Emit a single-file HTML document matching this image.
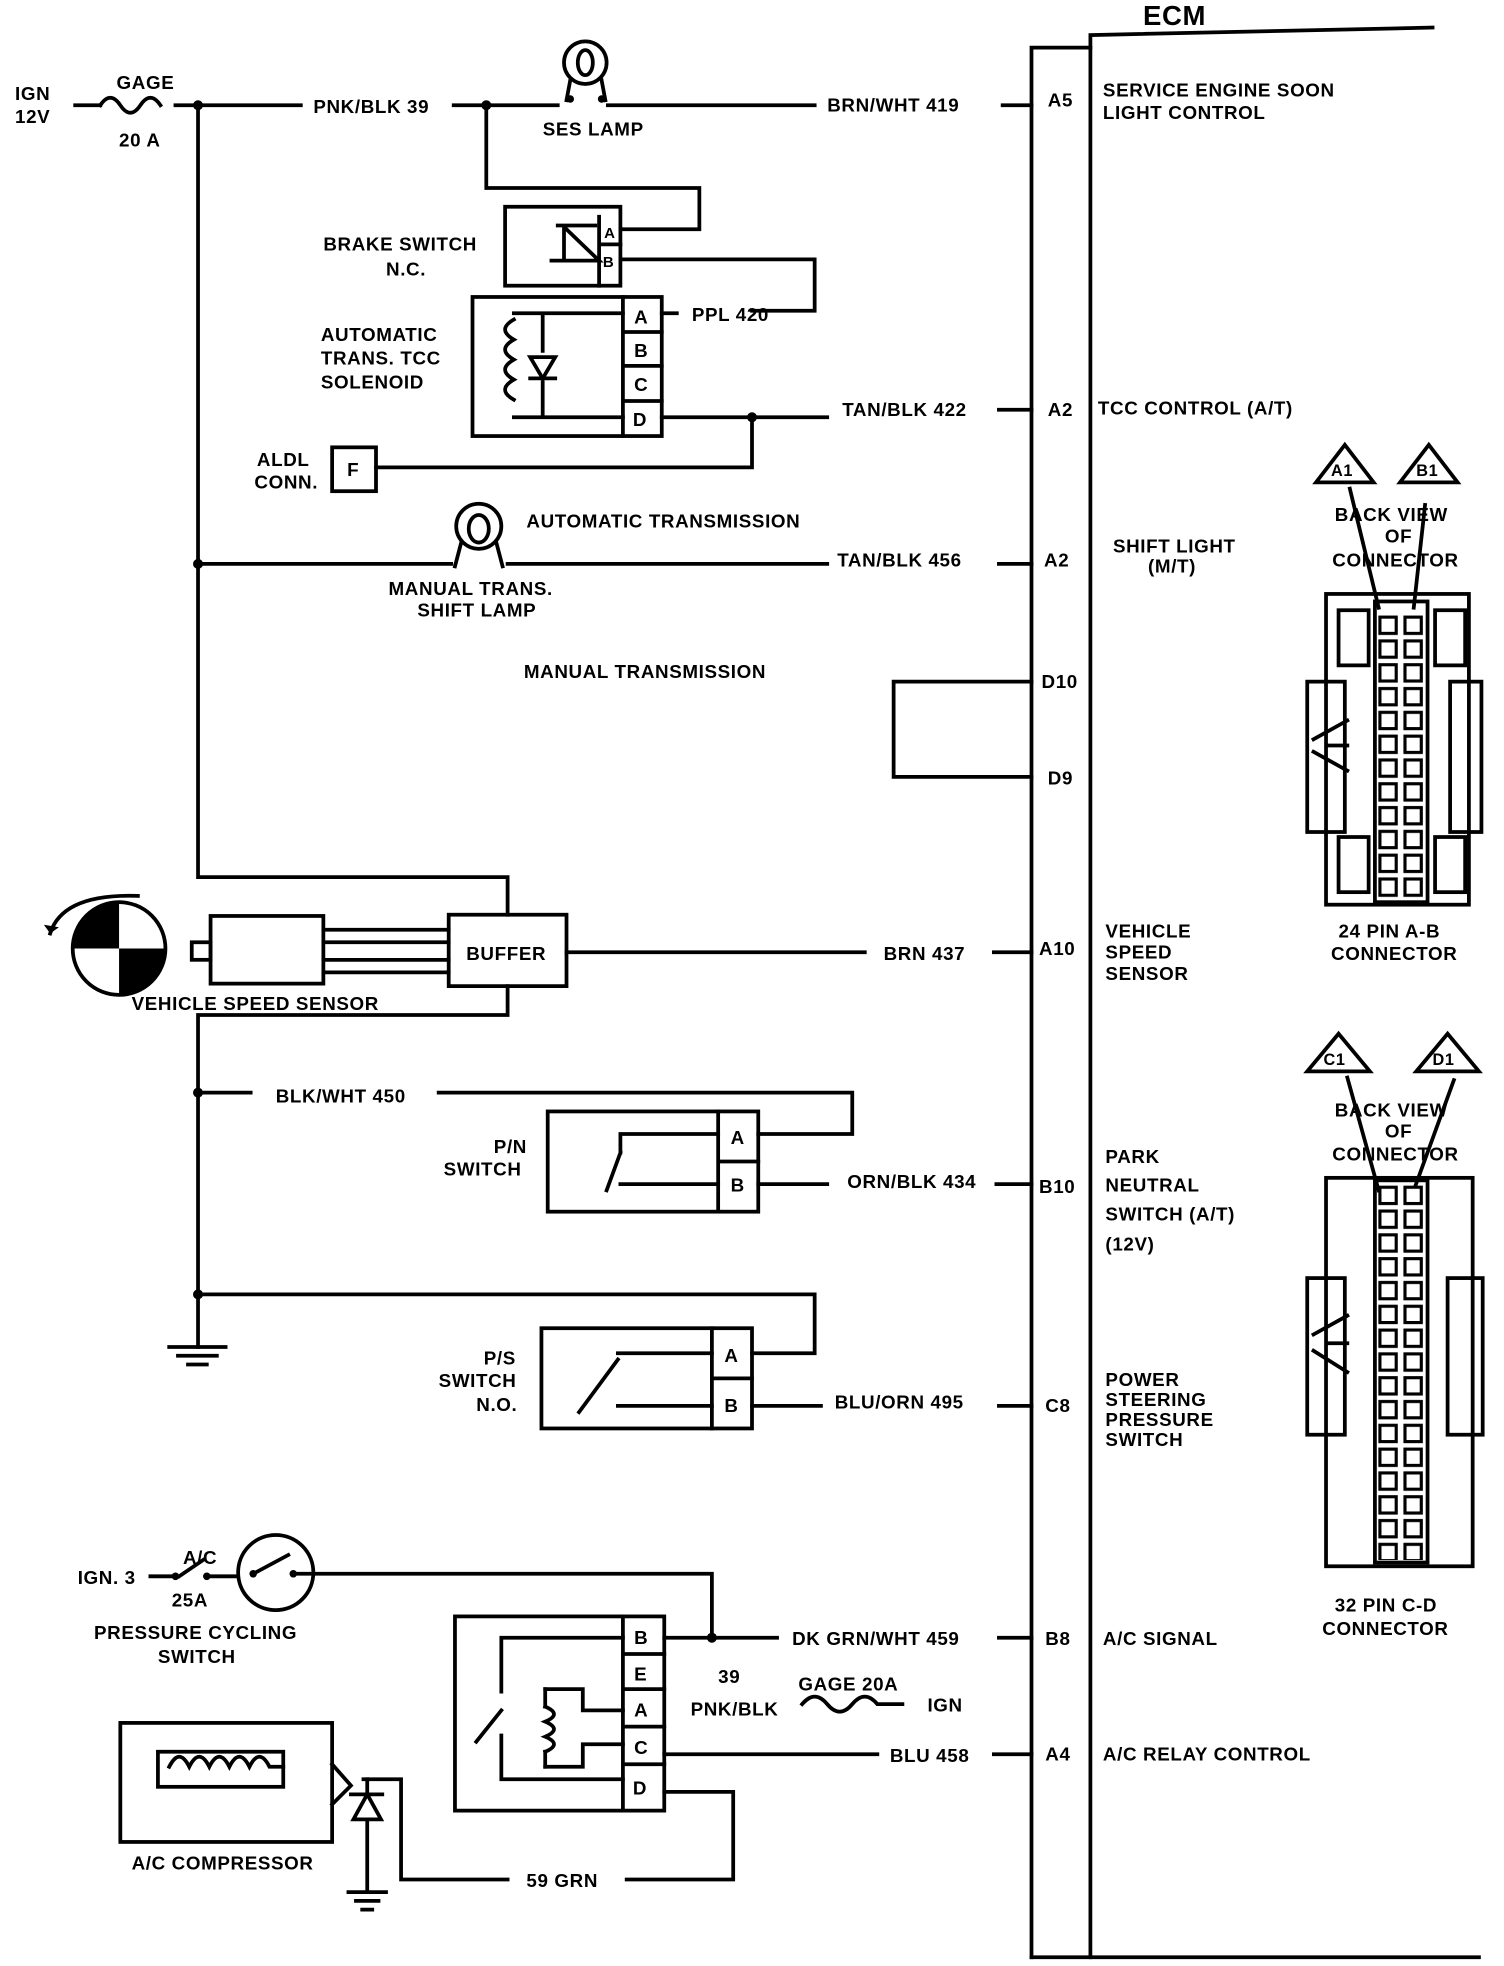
<!DOCTYPE html>
<html><head><meta charset="utf-8"><style>
html,body{margin:0;padding:0;background:#fff}
svg{display:block}
text{font-family:"Liberation Sans",sans-serif;font-weight:bold;font-size:15px;fill:#000;letter-spacing:0.5px}
</style></head><body>
<svg width="1504" height="1966" viewBox="0 0 1200 1569" preserveAspectRatio="none" xmlns="http://www.w3.org/2000/svg">
<defs>
<pattern id="pins" x="1098" y="490" width="20" height="19" patternUnits="userSpaceOnUse"><rect x="3" y="2.5" width="13" height="13" fill="#fff" stroke="#000" stroke-width="2.5"/></pattern>
<pattern id="pins2" x="1098" y="945" width="20" height="19" patternUnits="userSpaceOnUse"><rect x="3" y="2.5" width="13" height="13" fill="#fff" stroke="#000" stroke-width="2.5"/></pattern>
</defs>
<g fill="none" stroke="#000" stroke-width="3" stroke-linecap="square">
<path d="M823 1562 V38 H870"/>
<path d="M870 1562 V28 L1143 22"/>
<path d="M823 1562 H870 H1180"/>
<path d="M60 84 H80"/>
<path d="M80 84 q8 -12 16 0 q8 12 16 0 q8 -12 16 0"/>
<path d="M140 84 H240"/>
<path d="M158 84 V700 H405 V730"/>
<path d="M362 84 H445"/>
<circle cx="467" cy="50" r="17"/>
<ellipse cx="467" cy="50" rx="6" ry="10"/>
<path d="M455 64 L452 80 M480 64 L483 80"/>
<path d="M485 84 H650"/>
<path d="M800 84 H823"/>
<path d="M388 84 V150 H558 V183 H495"/>
<rect x="403" y="165" width="92" height="63"/>
<path d="M478 173 V228 M478 195 H495"/>
<path d="M450 180 V208 M445 180 H475 M440 208 H478 L452 183"/>
<path d="M495 207 H650 V248 H600"/>
<path d="M528 250 H540"/>
<rect x="377" y="237" width="151" height="111"/>
<path d="M497 237 V348 M497 265 H528 M497 292 H528 M497 320 H528"/>
<path d="M410 250 H497 M410 333 H497 M433 250 V280 M433 305 V333"/>
<path d="M410 255 q-14 8 0 16 q-14 8 0 16 q-14 8 0 16 q-14 8 0 16"/>
<path d="M423 285 H443 L433 302 Z M423 302 H443"/>
<path d="M528 333 H660"/>
<path d="M797 327 H823"/>
<path d="M600 333 V373 H300"/>
<rect x="265" y="357" width="35" height="35"/>
<path d="M158 450 H360 M405 450 H660"/>
<circle cx="382" cy="420" r="18"/>
<ellipse cx="382" cy="422" rx="8" ry="11"/>
<path d="M368 433 L363 452 M396 433 L401 452"/>
<path d="M797 450 H823"/>
<path d="M713 544 H823 M713 544 V620 H823"/>
<circle cx="95" cy="757" r="37"/>
<path d="M40 745 Q50 713 110 715"/>
<rect x="153" y="752" width="15" height="14"/>
<rect x="168" y="731" width="90" height="54"/>
<path d="M258 742 H358 M258 752 H358 M258 766 H358 M258 776 H358"/>
<rect x="358" y="730" width="94" height="57"/>
<path d="M452 760 H690 M793 760 H823"/>
<path d="M405 787 V810 H158 V1075"/>
<path d="M135 1075 H180 M142 1082 H173 M150 1089 H165"/>
<path d="M158 872 H200 M350 872 H680 V905 H605"/>
<rect x="437" y="887" width="168" height="80"/>
<path d="M573 887 V967 M573 927 H605"/>
<path d="M495 905 H573 M495 945 H573 M495 905 V920 M484 950 L495 920"/>
<path d="M605 945 H660 M795 945 H823"/>
<path d="M158 1033 H650 V1080 H600"/>
<rect x="432" y="1060" width="168" height="80"/>
<path d="M568 1060 V1140 M568 1100 H600"/>
<path d="M493 1080 H568 M493 1122 H568 M462 1127 L493 1085"/>
<path d="M600 1122 H655 M797 1122 H823"/>
<path d="M120 1258 H137 M143 1258 L162 1245 M168 1258 H190"/>
<circle cx="220" cy="1255" r="30"/>
<path d="M202 1256 L230 1241 M234 1256 H250"/>
<path d="M250 1256 H568 V1307"/>
<rect x="363" y="1290" width="167" height="155"/>
<path d="M497 1290 V1445 M497 1320 H530 M497 1348 H530 M497 1378 H530 M497 1408 H530"/>
<path d="M400 1307 H497 M400 1307 V1350 M380 1390 L400 1365 M400 1385 V1420 H497"/>
<path d="M435 1348 V1362 M435 1398 V1410"/>
<path d="M435 1362 q14 6 0 12 q14 6 0 12 q14 6 0 12"/>
<path d="M435 1348 H465 V1365 H497 M435 1410 H465 V1392 H497"/>
<path d="M530 1307 H620 M797 1307 H823"/>
<path d="M640 1360 q10 -12 20 0 q10 12 20 0 q10 -12 20 0 H720"/>
<path d="M530 1400 H700 M793 1400 H823"/>
<path d="M530 1430 H585 V1500 H500 M405 1500 H320 V1420 H290"/>
<rect x="96" y="1375" width="169" height="95"/>
<rect x="126" y="1398" width="100" height="28"/>
<path d="M135 1410 q8 -16 16 0 q8 -16 16 0 q8 -16 16 0 q8 -16 16 0 q8 -16 16 0 H226"/>
<path d="M265 1408 L280 1425 L265 1440"/>
<path d="M280 1432 H305 M282 1452 H304 L293 1432 Z M293 1420 V1432 M293 1452 V1510"/>
<path d="M278 1510 H308 M284 1517 H302 M289 1524 H297"/>
<path d="M1050 385 L1073 355 L1096 385 Z M1117 385 L1140 355 L1163 385 Z"/>
<path d="M1077 390 L1100 485 M1137 403 L1128 485"/>
<rect x="1058" y="474" width="114" height="248"/>
<rect x="1043" y="544" width="30" height="120"/>
<rect x="1157" y="544" width="25" height="120"/>
<rect x="1097" y="480" width="42" height="240"/>
<rect x="1068" y="487" width="24" height="44"/>
<rect x="1145" y="487" width="24" height="44"/>
<rect x="1068" y="668" width="24" height="44"/>
<rect x="1145" y="668" width="24" height="44"/>
<path d="M1048 590 L1075 575 M1048 600 L1075 615 M1060 595 H1075"/>
<path d="M1043 855 L1068 825 L1093 855 Z M1130 855 L1155 825 L1180 855 Z"/>
<path d="M1075 860 L1100 950 M1160 862 L1128 950"/>
<rect x="1058" y="940" width="117" height="310"/>
<rect x="1043" y="1020" width="30" height="125"/>
<rect x="1155" y="1020" width="28" height="125"/>
<rect x="1097" y="942" width="42" height="305"/>
<path d="M1048 1065 L1075 1050 M1048 1078 L1075 1095 M1060 1072 H1075"/>
</g>
<rect x="1098" y="490" width="40" height="228" fill="url(#pins)"/>
<rect x="1098" y="945" width="40" height="300" fill="url(#pins2)"/>
<g fill="#000">
<circle cx="158" cy="84" r="4"/><circle cx="388" cy="84" r="4"/><circle cx="600" cy="333" r="4"/>
<circle cx="158" cy="450" r="4"/><circle cx="158" cy="872" r="4"/><circle cx="158" cy="1033" r="4"/>
<circle cx="568" cy="1307" r="4"/>
<circle cx="455" cy="79" r="3"/><circle cx="480" cy="79" r="3"/>
<circle cx="140" cy="1258" r="3"/><circle cx="165" cy="1258" r="3"/>
<circle cx="202" cy="1256" r="3"/><circle cx="234" cy="1256" r="3"/>
<path d="M58 757 A37 37 0 0 1 95 720 V757 Z M132 757 A37 37 0 0 1 95 794 V757 Z"/>
<path d="M40 745 L35 738 L47 740 Z"/>
</g>
<g>
<text x="912" y="20" style="font-size:22px">ECM</text>
<text x="12" y="80">IGN</text><text x="12" y="98">12V</text>
<text x="93" y="71">GAGE</text><text x="95" y="117">20 A</text>
<text x="250" y="90">PNK/BLK 39</text>
<text x="433" y="108">SES LAMP</text>
<text x="660" y="89">BRN/WHT 419</text>
<text x="258" y="200">BRAKE SWITCH</text><text x="308" y="220">N.C.</text>
<text x="482" y="190" style="font-size:12px">A</text><text x="481" y="213" style="font-size:12px">B</text>
<text x="552" y="256">PPL 420</text>
<text x="256" y="272">AUTOMATIC</text><text x="256" y="291">TRANS. TCC</text><text x="256" y="310">SOLENOID</text>
<text x="506" y="258">A</text><text x="506" y="285">B</text><text x="506" y="312">C</text><text x="505" y="340">D</text>
<text x="672" y="332">TAN/BLK 422</text>
<text x="205" y="372">ALDL</text><text x="203" y="390">CONN.</text>
<text x="277" y="380">F</text>
<text x="420" y="421">AUTOMATIC TRANSMISSION</text>
<text x="668" y="452">TAN/BLK 456</text>
<text x="310" y="475">MANUAL TRANS.</text><text x="333" y="492">SHIFT LAMP</text>
<text x="418" y="541">MANUAL TRANSMISSION</text>
<text x="372" y="766">BUFFER</text>
<text x="705" y="766">BRN 437</text>
<text x="105" y="806">VEHICLE SPEED SENSOR</text>
<text x="220" y="880">BLK/WHT 450</text>
<text x="394" y="920">P/N</text><text x="354" y="938">SWITCH</text>
<text x="583" y="913">A</text><text x="583" y="951">B</text>
<text x="676" y="948">ORN/BLK 434</text>
<text x="386" y="1089">P/S</text><text x="350" y="1107">SWITCH</text><text x="380" y="1126">N.O.</text>
<text x="578" y="1087">A</text><text x="578" y="1127">B</text>
<text x="666" y="1124">BLU/ORN 495</text>
<text x="62" y="1264">IGN. 3</text><text x="146" y="1248">A/C</text><text x="137" y="1282">25A</text>
<text x="75" y="1308">PRESSURE CYCLING</text><text x="126" y="1327">SWITCH</text>
<text x="506" y="1312">B</text><text x="506" y="1341">E</text><text x="506" y="1370">A</text><text x="506" y="1400">C</text><text x="505" y="1432">D</text>
<text x="632" y="1313">DK GRN/WHT 459</text>
<text x="573" y="1343">39</text><text x="551" y="1369">PNK/BLK</text>
<text x="637" y="1349">GAGE 20A</text><text x="740" y="1366">IGN</text>
<text x="710" y="1406">BLU 458</text>
<text x="420" y="1506">59 GRN</text>
<text x="105" y="1492">A/C COMPRESSOR</text>
<text x="836" y="85">A5</text><text x="836" y="332">A2</text><text x="833" y="452">A2</text>
<text x="831" y="549">D10</text><text x="836" y="626">D9</text><text x="829" y="762">A10</text>
<text x="829" y="952">B10</text><text x="834" y="1127">C8</text><text x="834" y="1313">B8</text><text x="834" y="1405">A4</text>
<text x="880" y="77">SERVICE ENGINE SOON</text><text x="880" y="95">LIGHT CONTROL</text>
<text x="876" y="331">TCC CONTROL (A/T)</text>
<text x="888" y="441">SHIFT LIGHT</text><text x="916" y="457">(M/T)</text>
<text x="882" y="748">VEHICLE</text><text x="882" y="765">SPEED</text><text x="882" y="782">SENSOR</text>
<text x="882" y="928">PARK</text><text x="882" y="951">NEUTRAL</text><text x="882" y="974">SWITCH (A/T)</text><text x="882" y="998">(12V)</text>
<text x="882" y="1106">POWER</text><text x="882" y="1122">STEERING</text><text x="882" y="1138">PRESSURE</text><text x="882" y="1154">SWITCH</text>
<text x="880" y="1313">A/C SIGNAL</text>
<text x="880" y="1405">A/C RELAY CONTROL</text>
<text x="1062" y="380" style="font-size:13px">A1</text><text x="1130" y="380" style="font-size:13px">B1</text>
<text x="1065" y="416">BACK VIEW</text><text x="1105" y="433">OF</text><text x="1063" y="452">CONNECTOR</text>
<text x="1068" y="748">24 PIN  A-B</text><text x="1062" y="766">CONNECTOR</text>
<text x="1056" y="850" style="font-size:13px">C1</text><text x="1143" y="850" style="font-size:13px">D1</text>
<text x="1065" y="891">BACK VIEW</text><text x="1105" y="908">OF</text><text x="1063" y="926">CONNECTOR</text>
<text x="1065" y="1286">32 PIN C-D</text><text x="1055" y="1305">CONNECTOR</text>
</g>
</svg>
</body></html>
